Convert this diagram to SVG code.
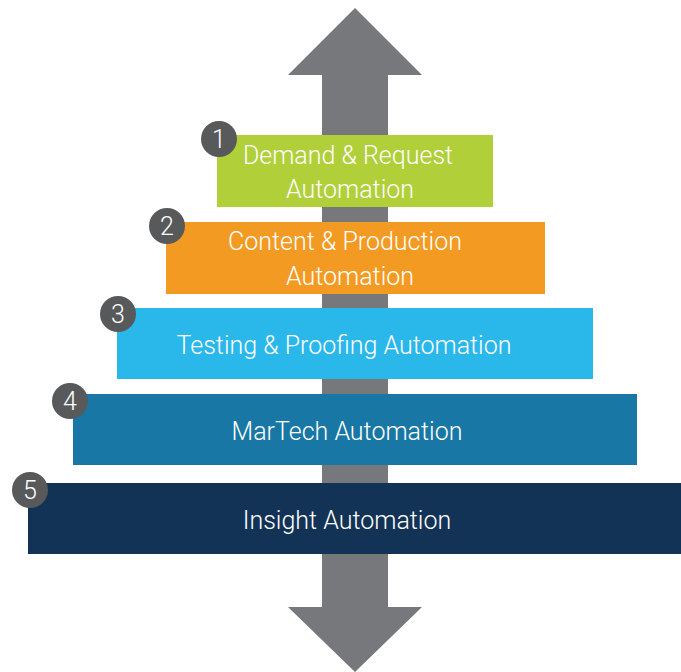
<svg xmlns="http://www.w3.org/2000/svg" width="681" height="672" viewBox="0 0 681 672">
  <style>
    .lbl { font-family: Roboto, "Liberation Sans", sans-serif; font-weight: 300; font-size: 25px; fill: #ffffff; text-anchor: middle; }
    .num { font-family: Roboto, "Liberation Sans", sans-serif; font-weight: 300; font-size: 25px; fill: #ffffff; text-anchor: middle; }
    .badge { fill: #58595b; }
  </style>
  <rect width="681" height="672" fill="#ffffff"/>

  <!-- double-headed vertical arrow behind the tiers -->
  <g id="connectors">
    <polygon fill="#77787b" points="355,8 422,75 388,75 388,607 422,607 355,672 288,607 322,607 322,75 288,75"/>
  </g>

  <g id="tier1">
    <rect x="217" y="135" width="276" height="72" fill="#b0cf39"/>
    <text class="lbl" x="348" y="164">Demand &amp; Request</text>
    <text class="lbl" x="350" y="198">Automation</text>
    <circle class="badge" cx="219" cy="139" r="18"/>
    <text class="num" x="219" y="148">1</text>
  </g>

  <g id="tier2">
    <rect x="166" y="222" width="379" height="72" fill="#f39a22"/>
    <text class="lbl" x="345" y="250">Content &amp; Production</text>
    <text class="lbl" x="350" y="285">Automation</text>
    <circle class="badge" cx="167" cy="226" r="18"/>
    <text class="num" x="167" y="235">2</text>
  </g>

  <g id="tier3">
    <rect x="117" y="308" width="476" height="71" fill="#2ab7ea"/>
    <text class="lbl" x="344" y="354">Testing &amp; Proofing Automation</text>
    <circle class="badge" cx="118" cy="314" r="18"/>
    <text class="num" x="118" y="323">3</text>
  </g>

  <g id="tier4">
    <rect x="73" y="394" width="564" height="71" fill="#1877a4"/>
    <text class="lbl" x="347" y="440">MarTech Automation</text>
    <circle class="badge" cx="70" cy="401" r="18"/>
    <text class="num" x="70" y="410">4</text>
  </g>

  <g id="tier5">
    <rect x="28" y="483" width="653" height="71" fill="#133356"/>
    <text class="lbl" x="347" y="529">Insight Automation</text>
    <circle class="badge" cx="30" cy="490" r="18"/>
    <text class="num" x="30" y="499">5</text>
  </g>
</svg>
